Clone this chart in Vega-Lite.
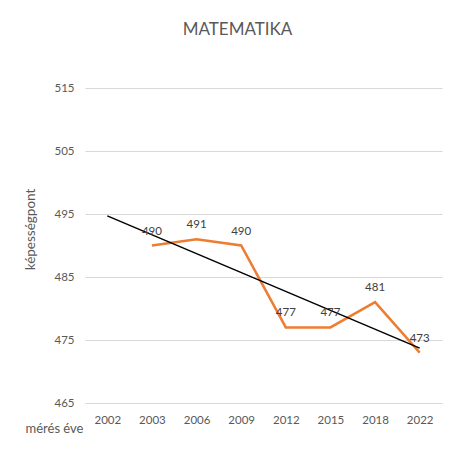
{
  "$schema": "https://vega.github.io/schema/vega-lite/v6.json",
  "autosize": "none",
  "padding": {"left": 85, "top": 88, "right": 32, "bottom": 66},
  "width": 357,
  "height": 315,
  "background": "white",
  "config": {
    "view": {"stroke": null},
    "font": "Lato"
  },
  "title": {
    "text": "MATEMATIKA",
    "fontSize": 17,
    "font": "Lato",
    "fontWeight": "normal",
    "color": "#595959",
    "anchor": "middle",
    "dx": -26,
    "offset": 43
  },
  "datasets": {
    "scores": [
      {"ev": "2003", "pont": 490},
      {"ev": "2006", "pont": 491},
      {"ev": "2009", "pont": 490},
      {"ev": "2012", "pont": 477},
      {"ev": "2015", "pont": 477},
      {"ev": "2018", "pont": 481},
      {"ev": "2022", "pont": 473}
    ],
    "trend": [
      {"ev": "2002", "pont": 494.71},
      {"ev": "2022", "pont": 473.71}
    ]
  },
  "encoding": {
    "x": {
      "field": "ev",
      "type": "ordinal",
      "sort": ["2002", "2003", "2006", "2009", "2012", "2015", "2018", "2022"],
      "scale": {"domain": ["2002", "2003", "2006", "2009", "2012", "2015", "2018", "2022"], "paddingInner": 0, "paddingOuter": 0},
      "axis": {
        "title": "mérés éve",
        "titleFont": "Lato",
        "titleFontSize": 13,
        "titleFontWeight": "normal",
        "titleColor": "#595959",
        "titleAnchor": "start",
        "titleAlign": "left",
        "titleBaseline": "middle",
        "titleX": -60,
        "titleY": 25,
        "labelAngle": 0,
        "labelFontSize": 11.5,
        "labelColor": "#595959",
        "labelPadding": 11,
        "ticks": false,
        "domainColor": "#D9D9D9",
        "domainWidth": 1
      }
    },
    "y": {
      "field": "pont",
      "type": "quantitative",
      "scale": {"domain": [465, 515], "zero": false, "nice": false},
      "axis": {
        "values": [465, 475, 485, 495, 505, 515],
        "title": "képességpont",
        "titleFont": "Lato",
        "titleFontSize": 13.5,
        "titleFontWeight": "normal",
        "titleColor": "#595959",
        "titleX": -48,
        "titleY": 141,
        "labelFontSize": 11.5,
        "labelColor": "#595959",
        "labelPadding": 11,
        "ticks": false,
        "domain": false,
        "gridColor": "#D9D9D9",
        "gridWidth": 1
      }
    }
  },
  "layer": [
    {
      "data": {"name": "scores"},
      "mark": {"type": "line", "color": "#ED7D31", "strokeWidth": 2.5}
    },
    {
      "data": {"name": "trend"},
      "mark": {"type": "line", "color": "#000000", "strokeWidth": 1.5}
    },
    {
      "data": {"name": "scores"},
      "mark": {"type": "text", "dy": -14, "fontSize": 11.5, "color": "#404040", "font": "Lato"},
      "encoding": {"text": {"field": "pont", "type": "quantitative"}}
    }
  ]
}
